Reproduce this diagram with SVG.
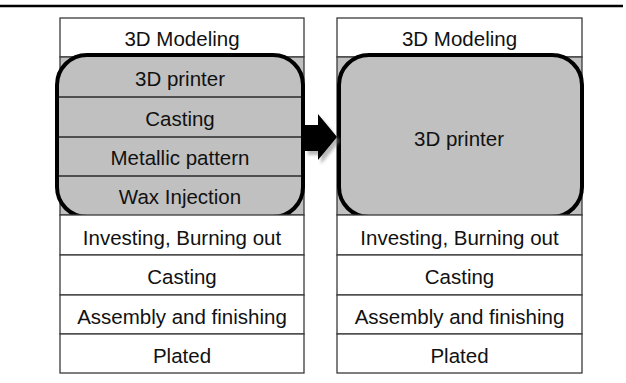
<svg xmlns="http://www.w3.org/2000/svg" width="626" height="383" viewBox="0 0 626 383">
  <style>
    .cell { fill: #ffffff; stroke: #3a3a3a; stroke-width: 1.3; }
    .shaded { fill: #c0c0c0; stroke: #3a3a3a; stroke-width: 1.3; }
    .rowline { stroke: #2a2a2a; stroke-width: 1.3; }
    .group { fill: #c0c0c0; stroke: #000000; stroke-width: 4; }
    .label { font-family: "Liberation Sans", Arial, sans-serif; font-size: 20.5px; fill: #111111; text-anchor: middle; }
  </style>
  <defs>
    <filter id="soft" x="-30%" y="-30%" width="160%" height="160%">
      <feGaussianBlur stdDeviation="1.6"/>
    </filter>
  </defs>

  <!-- rule across the top -->
  <line x1="0" y1="6" x2="623" y2="6" stroke="#000000" stroke-width="2.5"/>

  <!-- left column: conventional process -->
  <g id="left-column">
    <g id="l-modeling">
      <rect class="cell" x="60" y="18" width="244" height="39"/>
      <text class="label" x="182" y="46">3D Modeling</text>
    </g>
    <rect class="shaded" x="60" y="57" width="244" height="158"/>
    <g id="l-group">
      <rect class="group" x="57" y="55" width="246" height="162" rx="30" ry="30"/>
      <line class="rowline" x1="59" y1="97" x2="301" y2="97"/>
      <line class="rowline" x1="59" y1="137" x2="301" y2="137"/>
      <line class="rowline" x1="59" y1="176" x2="301" y2="176"/>
      <g id="l-printer"><text class="label" x="180" y="86">3D printer</text></g>
      <g id="l-casting1"><text class="label" x="180" y="126">Casting</text></g>
      <g id="l-metallic"><text class="label" x="180" y="165">Metallic pattern</text></g>
      <g id="l-wax"><text class="label" x="180" y="204">Wax Injection</text></g>
    </g>
    <g id="l-investing">
      <rect class="cell" x="60" y="215" width="244" height="40"/>
      <text class="label" x="182" y="245">Investing, Burning out</text>
    </g>
    <g id="l-casting2">
      <rect class="cell" x="60" y="255" width="244" height="40"/>
      <text class="label" x="182" y="284">Casting</text>
    </g>
    <g id="l-assembly">
      <rect class="cell" x="60" y="295" width="244" height="39"/>
      <text class="label" x="182" y="324">Assembly and finishing</text>
    </g>
    <g id="l-plated">
      <rect class="cell" x="60" y="334" width="244" height="39"/>
      <text class="label" x="182" y="363">Plated</text>
    </g>
  </g>

  <!-- right column: process with 3D printing -->
  <g id="right-column">
    <g id="r-modeling">
      <rect class="cell" x="337" y="18" width="245" height="39"/>
      <text class="label" x="459.5" y="46">3D Modeling</text>
    </g>
    <rect class="shaded" x="337" y="57" width="245" height="158"/>
    <g id="r-printer">
      <rect class="group" x="339" y="55" width="243" height="162" rx="30" ry="30"/>
      <text class="label" x="459" y="146">3D printer</text>
    </g>
    <g id="r-investing">
      <rect class="cell" x="337" y="215" width="245" height="40"/>
      <text class="label" x="459.5" y="245">Investing, Burning out</text>
    </g>
    <g id="r-casting">
      <rect class="cell" x="337" y="255" width="245" height="40"/>
      <text class="label" x="459.5" y="284">Casting</text>
    </g>
    <g id="r-assembly">
      <rect class="cell" x="337" y="295" width="245" height="39"/>
      <text class="label" x="459.5" y="324">Assembly and finishing</text>
    </g>
    <g id="r-plated">
      <rect class="cell" x="337" y="334" width="245" height="39"/>
      <text class="label" x="459.5" y="363">Plated</text>
    </g>
  </g>

  <!-- block arrow between the columns -->
  <g id="connectors">
    <path d="M305 125 H318 V114 L337 137 L318 160 V151 H305 Z" transform="translate(3,4)" fill="#8a8a8a" opacity="0.6" filter="url(#soft)"/>
    <path d="M304 125 H318 V114 L337 137 L318 160 V151 H304 Z" fill="#000000"/>
  </g>
</svg>
